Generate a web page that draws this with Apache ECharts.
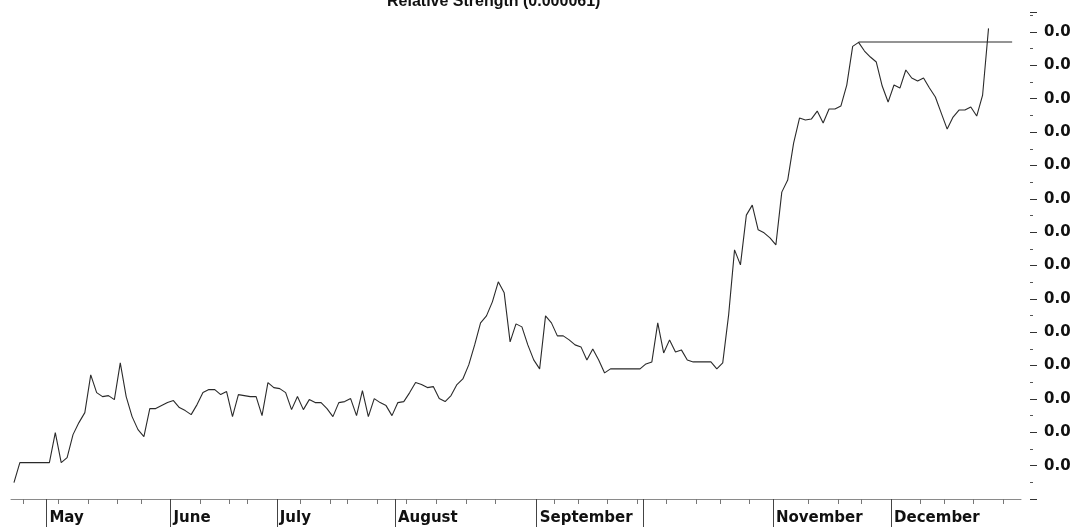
<!DOCTYPE html>
<html>
<head>
<meta charset="utf-8">
<script src="https://cdn.jsdelivr.net/npm/echarts@6/dist/echarts.min.js"></script>
<style>
html,body{margin:0;padding:0;background:#fff;}
#chart{width:1071px;height:530px;}
</style>
</head>
<body>
<div id="chart"></div>
<script>
// ---- data ----
const titleText = 'Relative Strength (0.000061)';
const totalDays = 171; // trading-day slots on the axis
const rsValues = [
 0.49,1.09,1.09,1.09,1.09,1.09,1.09,1.99,1.09,1.24,
 1.93,2.29,2.59,3.72,3.19,3.07,3.10,2.98,4.08,3.07,
 2.47,2.08,1.87,2.71,2.71,2.80,2.89,2.95,2.74,2.65,
 2.53,2.83,3.19,3.28,3.28,3.13,3.22,2.47,3.13,3.10,
 3.07,3.07,2.50,3.49,3.34,3.31,3.19,2.68,3.07,2.68,
 2.98,2.89,2.89,2.71,2.47,2.89,2.92,3.01,2.50,3.25,
 2.47,3.01,2.89,2.80,2.50,2.89,2.92,3.19,3.49,3.43,
 3.34,3.37,3.01,2.92,3.10,3.43,3.60,4.02,4.62,5.28,
 5.49,5.91,6.51,6.18,4.71,5.25,5.16,4.62,4.17,3.90,
 5.49,5.28,4.89,4.89,4.77,4.62,4.56,4.17,4.50,4.17,
 3.78,3.90,3.90,3.90,3.90,3.90,3.90,4.05,4.11,5.28,
 4.38,4.77,4.41,4.47,4.17,4.11,4.11,4.11,4.11,3.90,
 4.08,5.52,7.47,7.02,8.51,8.81,8.07,7.98,7.83,7.62,
 9.20,9.56,10.67,11.42,11.36,11.39,11.63,11.27,11.69,11.69,
 11.78,12.41,13.57,13.69,13.43,13.25,13.10,12.38,11.90,12.41,
 12.32,12.86,12.62,12.53,12.62,12.32,12.05,11.57,11.09,11.45,
 11.66,11.66,11.75,11.48,12.11,14.11
];
const resistanceLevel = 13.70;
const resistanceStart = 143;
const resistanceEnd = 169;
// day boundaries (boundary k = start of trading day k)
const monthStartIdx = [6, 27, 45, 65, 89, 107, 129, 149];
const monthNames    = ['May','June','July','August','September','','November','December'];
const weekTickIdx = [2,8,13,18,22,32,37,40,49,54,57,62,67,72,77,82,92,96,101,106,111,116,120,125,135,140,144,154,158,163,168];
const yTickLabel = '0.0';
const yMin = 0, yMax = 14.6, yStep = 1;

// ---- build ----
const categories = [];
for (let i = 0; i < totalDays; i++) categories.push(String(i));
const boundaries = [];
for (let k = 0; k <= totalDays; k++) boundaries.push(String(k));
const monthLabelOf = {};
monthStartIdx.forEach((d, k) => { monthLabelOf[d] = monthNames[k]; });
const resistanceData = categories.map((c, i) => (i >= resistanceStart && i <= resistanceEnd) ? resistanceLevel : null);

const chart = echarts.init(document.getElementById('chart'), null, {renderer: 'canvas'});
const font = 'Liberation Sans, Arial, sans-serif';
const wideFont = 'DejaVu Sans, Verdana, sans-serif';
chart.setOption({
  animation: false,
  backgroundColor: '#ffffff',
  title: {
    text: titleText,
    left: 382, top: -11,
    textStyle: {fontFamily: font, fontSize: 16, fontWeight: 'bold', color: '#111'}
  },
  grid: {left: 11, right: 50, top: 12, bottom: 31, containLabel: false, outerBoundsMode: 'none'},
  xAxis: [
    {
      type: 'category', data: categories, boundaryGap: true, position: 'bottom',
      axisLine: {show: true, lineStyle: {color: '#8a8a8a', width: 1}},
      axisTick: {show: false},
      axisLabel: {show: false},
      splitLine: {show: false}
    },
    {
      type: 'category', data: boundaries, boundaryGap: false, position: 'bottom',
      axisLine: {show: false},
      axisTick: {show: true, length: 5, interval: (k) => weekTickIdx.indexOf(k) >= 0, lineStyle: {color: '#777'}},
      axisLabel: {show: false},
      splitLine: {show: false}
    },
    {
      type: 'category', data: boundaries, boundaryGap: false, position: 'bottom',
      axisLine: {show: false},
      axisTick: {show: true, length: 28, interval: (k) => monthStartIdx.indexOf(k) >= 0, lineStyle: {color: '#444'}},
      axisLabel: {
        show: true, interval: (k) => monthStartIdx.indexOf(k) >= 0,
        formatter: (v) => monthLabelOf[Number(v)] || '',
        align: 'left', margin: 12, padding: [0, 0, 0, 3],
        fontFamily: wideFont, fontSize: 15, fontWeight: 'bold', color: '#111'
      },
      splitLine: {show: false}
    }
  ],
  yAxis: {
    type: 'value', position: 'right', min: yMin, max: yMax, interval: yStep, offset: 9,
    axisLine: {show: false},
    axisTick: {show: true, length: 7, lineStyle: {color: '#333'}},
    minorTick: {show: true, splitNumber: 2, length: 3, lineStyle: {color: '#555'}},
    axisLabel: {
      formatter: (v) => (v >= 1 && v <= 14) ? yTickLabel : '',
      margin: 14, fontFamily: wideFont, fontSize: 15, fontWeight: 'bold', color: '#111',
      showMaxLabel: false
    },
    splitLine: {show: false}
  },
  series: [
    {
      name: 'Relative Strength', type: 'line', xAxisIndex: 0, data: rsValues,
      showSymbol: false, symbol: 'none',
      lineStyle: {color: '#2a2a2a', width: 1.1}
    },
    {
      name: 'Resistance', type: 'line', xAxisIndex: 0, data: resistanceData,
      showSymbol: false, symbol: 'none',
      lineStyle: {color: '#2a2a2a', width: 1.1}
    }
  ]
});
</script>
</body>
</html>
